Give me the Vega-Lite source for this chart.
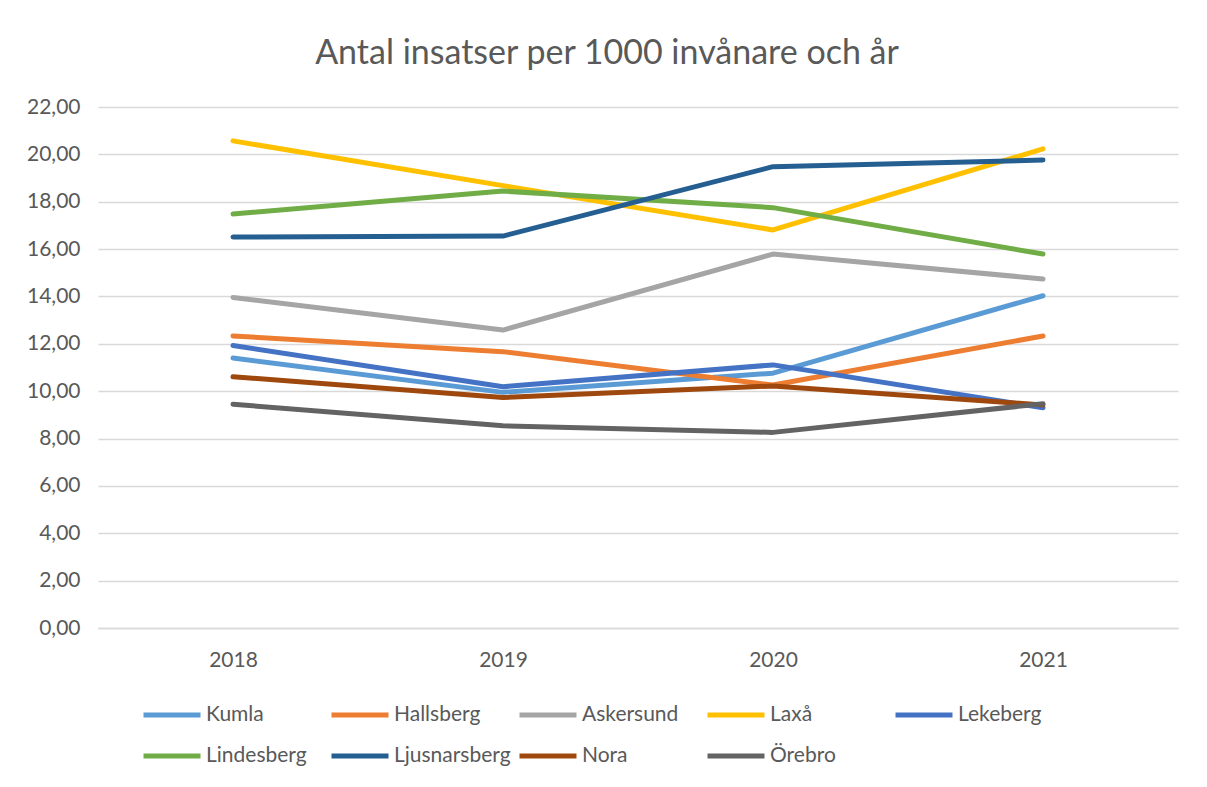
{
  "$schema": "https://vega.github.io/schema/vega-lite/v6.json",
  "width": 1080,
  "height": 521,
  "autosize": {"type": "none"},
  "padding": {"left": 98, "top": 107, "right": 29, "bottom": 159},
  "background": "white",
  "title": {
    "text": "Antal insatser per 1000 invånare och år",
    "font": "Lato",
    "fontSize": 34,
    "fontWeight": "normal",
    "color": "#595959",
    "anchor": "middle",
    "frame": "group",
    "dx": -31,
    "offset": 25
  },
  "data": {
    "values": [
      {"Kommun": "Kumla", "År": "2018", "Värde": 11.40},
      {"Kommun": "Kumla", "År": "2019", "Värde": 9.95},
      {"Kommun": "Kumla", "År": "2020", "Värde": 10.76},
      {"Kommun": "Kumla", "År": "2021", "Värde": 14.03},
      {"Kommun": "Hallsberg", "År": "2018", "Värde": 12.33},
      {"Kommun": "Hallsberg", "År": "2019", "Värde": 11.67},
      {"Kommun": "Hallsberg", "År": "2020", "Värde": 10.26},
      {"Kommun": "Hallsberg", "År": "2021", "Värde": 12.33},
      {"Kommun": "Askersund", "År": "2018", "Värde": 13.96},
      {"Kommun": "Askersund", "År": "2019", "Värde": 12.58},
      {"Kommun": "Askersund", "År": "2020", "Värde": 15.79},
      {"Kommun": "Askersund", "År": "2021", "Värde": 14.74},
      {"Kommun": "Laxå", "År": "2018", "Värde": 20.57},
      {"Kommun": "Laxå", "År": "2019", "Värde": 18.68},
      {"Kommun": "Laxå", "År": "2020", "Värde": 16.81},
      {"Kommun": "Laxå", "År": "2021", "Värde": 20.23},
      {"Kommun": "Lekeberg", "År": "2018", "Värde": 11.93},
      {"Kommun": "Lekeberg", "År": "2019", "Värde": 10.19},
      {"Kommun": "Lekeberg", "År": "2020", "Värde": 11.11},
      {"Kommun": "Lekeberg", "År": "2021", "Värde": 9.30},
      {"Kommun": "Lindesberg", "År": "2018", "Värde": 17.48},
      {"Kommun": "Lindesberg", "År": "2019", "Värde": 18.45},
      {"Kommun": "Lindesberg", "År": "2020", "Värde": 17.75},
      {"Kommun": "Lindesberg", "År": "2021", "Värde": 15.79},
      {"Kommun": "Ljusnarsberg", "År": "2018", "Värde": 16.51},
      {"Kommun": "Ljusnarsberg", "År": "2019", "Värde": 16.55},
      {"Kommun": "Ljusnarsberg", "År": "2020", "Värde": 19.48},
      {"Kommun": "Ljusnarsberg", "År": "2021", "Värde": 19.76},
      {"Kommun": "Nora", "År": "2018", "Värde": 10.61},
      {"Kommun": "Nora", "År": "2019", "Värde": 9.73},
      {"Kommun": "Nora", "År": "2020", "Värde": 10.22},
      {"Kommun": "Nora", "År": "2021", "Värde": 9.42},
      {"Kommun": "Örebro", "År": "2018", "Värde": 9.45},
      {"Kommun": "Örebro", "År": "2019", "Värde": 8.54},
      {"Kommun": "Örebro", "År": "2020", "Värde": 8.26},
      {"Kommun": "Örebro", "År": "2021", "Värde": 9.47}
    ]
  },
  "mark": {"type": "line", "strokeWidth": 5, "strokeCap": "round", "strokeJoin": "round"},
  "encoding": {
    "x": {
      "field": "År",
      "type": "ordinal",
      "scale": {"type": "point", "padding": 0.5},
      "axis": {
        "title": null,
        "labelAngle": 0,
        "ticks": false,
        "domain": true,
        "domainColor": "#D9D9D9",
        "domainWidth": 1.3,
        "labelPadding": 21,
        "labelFontSize": 21,
        "labelFont": "Lato",
        "labelColor": "#595959"
      }
    },
    "y": {
      "field": "Värde",
      "type": "quantitative",
      "scale": {"domain": [0, 22], "nice": false, "zero": true},
      "axis": {
        "title": null,
        "values": [0, 2, 4, 6, 8, 10, 12, 14, 16, 18, 20, 22],
        "labelExpr": "replace(format(datum.value, '.2f'), '.', ',')",
        "ticks": false,
        "domain": false,
        "grid": true,
        "gridColor": "#D9D9D9",
        "gridWidth": 1.3,
        "labelPadding": 18,
        "labelFontSize": 21,
        "labelFont": "Lato",
        "labelColor": "#595959",
        "minExtent": 80,
        "maxExtent": 80
      }
    },
    "color": {
      "field": "Kommun",
      "type": "nominal",
      "scale": {
        "domain": ["Kumla", "Hallsberg", "Askersund", "Laxå", "Lekeberg", "Lindesberg", "Ljusnarsberg", "Nora", "Örebro"],
        "range": ["#5B9BD5", "#ED7D31", "#A5A5A5", "#FFC000", "#4472C4", "#70AD47", "#255E91", "#9E480E", "#636363"]
      },
      "legend": {
        "title": null,
        "orient": "none",
        "legendX": 43,
        "legendY": 577,
        "direction": "horizontal",
        "columns": 5,
        "gridAlign": "all",
        "columnPadding": -2,
        "rowPadding": -13,
        "symbolType": "stroke",
        "symbolSize": 3249,
        "symbolStrokeWidth": 5,
        "labelFontSize": 21,
        "labelFont": "Lato",
        "labelColor": "#595959",
        "labelOffset": 3,
        "labelLimit": 200
      }
    }
  },
  "config": {"view": {"stroke": null}}
}
